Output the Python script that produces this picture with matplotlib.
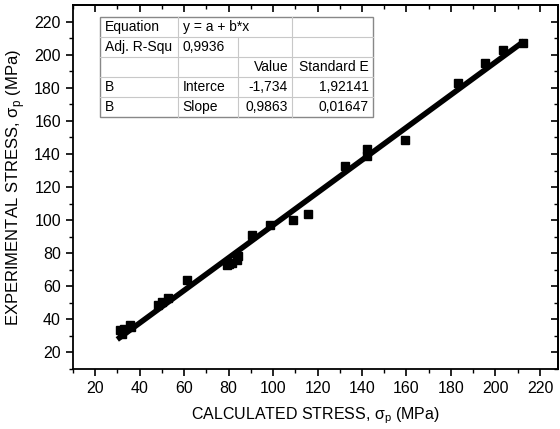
import matplotlib.pyplot as plt
import numpy as np

plt.rcParams['font.family'] = ['Liberation Sans', 'DejaVu Sans']

# calculated vs experimental stress (MPa)
calc = [31.2, 32.0, 33.0, 35.7, 36.2, 48.3, 50.2, 52.8, 61.3,
        79.3, 80.4, 81.6, 84.0, 84.3, 90.6, 98.7, 109.0, 115.7,
        132.4, 142.2, 142.2, 159.3, 183.1, 195.3, 203.4, 212.4]
exper = [33.8, 31.0, 34.0, 36.8, 35.5, 48.8, 50.5, 53.0, 63.8,
         72.8, 73.5, 74.0, 76.0, 78.0, 90.8, 96.8, 99.8, 103.4,
         132.8, 138.8, 143.0, 148.4, 183.2, 195.2, 203.0, 207.2]

# linear fit results
intercept = -1.734
slope = 0.9863

table_rows = [
    ["Equation", "y = a + b*x", "", ""],
    ["Adj. R-Squ", "0,9936", "", ""],
    ["", "", "Value", "Standard E"],
    ["B", "Interce", "-1,734", "1,92141"],
    ["B", "Slope", "0,9863", "0,01647"],
]

fig = plt.figure(figsize=(5.6, 4.29), dpi=100)
ax = fig.add_axes([0.130, 0.140, 0.866, 0.848])

ax.plot(calc, exper, 's', color='black', ms=6, zorder=3)
xf = np.array([30.0, 213.0])
ax.plot(xf, intercept + slope * xf, color='black', lw=4.0, zorder=4,
        solid_capstyle='butt')

ax.set_xlim(10, 228)
ax.set_ylim(11.5, 230)
major = np.arange(20, 221, 20)
ax.set_xticks(major)
ax.set_yticks(major)
ax.set_xticks(np.arange(10, 229, 10), minor=True)
ax.set_yticks(np.arange(10, 230, 10), minor=True)
ax.tick_params(which='major', direction='out', length=5, width=1.2,
               labelsize=11.5)
ax.tick_params(which='minor', direction='out', length=3, width=1.0)
for sp in ax.spines.values():
    sp.set_linewidth(1.3)

# top and right axes carry inward ticks without labels
top = ax.secondary_xaxis('top')
right = ax.secondary_yaxis('right')
for sec, axis in ((top, top.xaxis), (right, right.yaxis)):
    sec.set_ticks(major)
    sec.set_ticks(np.arange(10, 230, 10), minor=True)
    sec.tick_params(which='major', direction='in', length=5, width=1.2,
                    labelsize=0)
    sec.tick_params(which='minor', direction='in', length=3, width=1.0)
    axis.set_ticklabels([])
    for sp in sec.spines.values():
        sp.set_linewidth(1.3)

ax.set_xlabel(r"CALCULATED STRESS, σ$_\mathregular{p}$ (MPa)", fontsize=11.5, labelpad=7)
ax.set_ylabel(r"EXPERIMENTAL STRESS, σ$_\mathregular{p}$ (MPa)", fontsize=12, labelpad=5)

# fit table drawn in axes coordinates
x0, y0, w, h = 0.056, 0.692, 0.563, 0.275
col_w = np.array([78, 60, 54, 81]) / 273.0
col_edges = x0 + w * np.concatenate([[0], np.cumsum(col_w)])
nrow = len(table_rows)
rh = h / nrow
ax.add_patch(plt.Rectangle((x0, y0), w, h, transform=ax.transAxes,
                           facecolor='white', edgecolor='#888888',
                           lw=1.0, zorder=5))
grid = dict(color='#c8c8c8', lw=0.8, transform=ax.transAxes, zorder=6)
for i in range(1, nrow):
    yy = y0 + h - i * rh
    ax.plot([x0, x0 + w], [yy, yy], **grid)
for j in range(1, 4):
    xx = col_edges[j]
    ytop = y0 + h
    if j == 2:
        ytop = y0 + h - rh
    ax.plot([xx, xx], [y0, ytop], **grid)

for i, row in enumerate(table_rows):
    yc = y0 + h - (i + 0.5) * rh
    for j, txt in enumerate(row):
        if not txt:
            continue
        if j >= 2:
            ax.text(col_edges[j + 1] - 0.008, yc, txt, ha='right', va='center',
                    fontsize=10, transform=ax.transAxes, zorder=7)
        else:
            ax.text(col_edges[j] + 0.01, yc, txt, ha='left', va='center',
                    fontsize=10, transform=ax.transAxes, zorder=7)

fig.savefig("out.png", dpi=100)
